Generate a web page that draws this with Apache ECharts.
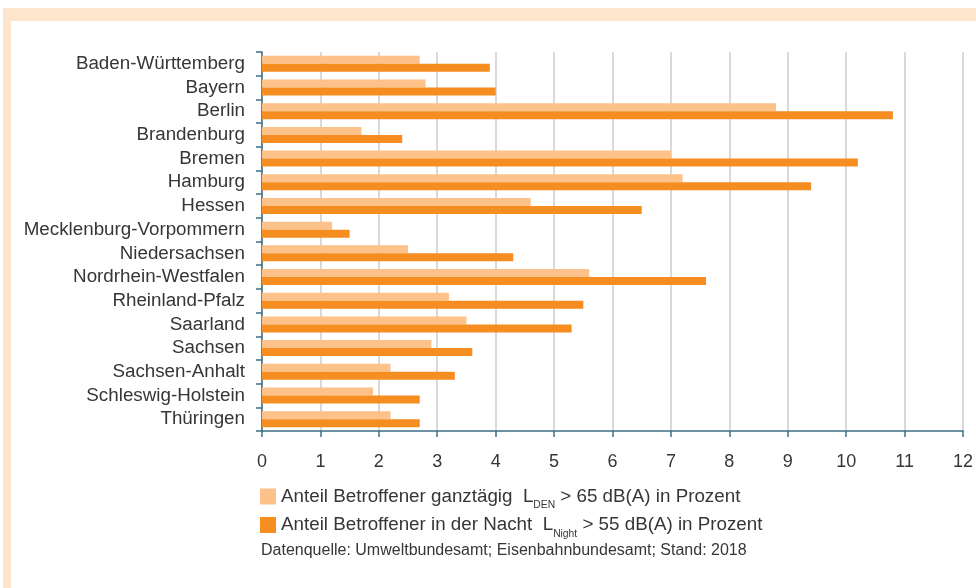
<!DOCTYPE html>
<html>
<head>
<meta charset="utf-8">
<script src="https://cdn.jsdelivr.net/npm/echarts@6/dist/echarts.min.js"></script>
<style>
  html, body { margin: 0; padding: 0; background: #fff; }
  #chart { width: 976px; height: 588px; }
</style>
</head>
<body>
<div id="chart"></div>
<script>
// Bundesländer (von oben nach unten)
var laender = ['Baden-Württemberg', 'Bayern', 'Berlin', 'Brandenburg', 'Bremen', 'Hamburg', 'Hessen',
  'Mecklenburg-Vorpommern', 'Niedersachsen', 'Nordrhein-Westfalen', 'Rheinland-Pfalz', 'Saarland',
  'Sachsen', 'Sachsen-Anhalt', 'Schleswig-Holstein', 'Thüringen'];

// Anteil Betroffener ganztägig L_DEN > 65 dB(A)
var ganztags = [2.7, 2.8, 8.8, 1.7, 7.0, 7.2, 4.6, 1.2, 2.5, 5.6, 3.2, 3.5, 2.9, 2.2, 1.9, 2.2];
// Anteil Betroffener in der Nacht L_Night > 55 dB(A)
var nachts = [3.9, 4.0, 10.8, 2.4, 10.2, 9.4, 6.5, 1.5, 4.3, 7.6, 5.5, 5.3, 3.6, 3.3, 2.7, 2.7];

var nameTag = 'ganztags';
var nameNacht = 'nachts';
var quelle = 'Datenquelle: Umweltbundesamt; Eisenbahnbundesamt; Stand: 2018';

var textFarbe = '#363636';
var achsenFarbe = '#3d6f85';
var rahmenFarbe = '#fde4cc';

var chart = echarts.init(document.getElementById('chart'));

chart.setOption({
  animation: false,
  textStyle: { fontFamily: 'Liberation Sans, Arial, sans-serif' },
  graphic: [
    // Rahmen oben und links
    { type: 'rect', left: 3, top: 8, shape: { width: 973, height: 13 }, style: { fill: rahmenFarbe } },
    { type: 'rect', left: 3, top: 8, shape: { width: 8, height: 580 }, style: { fill: rahmenFarbe } }
  ],
  title: {
    text: quelle,
    left: 256,
    top: 538,
    textStyle: { fontSize: 16, fontWeight: 'normal', color: textFarbe }
  },
  legend: {
    orient: 'vertical',
    left: 260,
    top: 487,
    padding: 0,
    itemWidth: 16,
    itemHeight: 16,
    itemGap: 5,
    icon: 'rect',
    data: [nameTag, nameNacht],
    formatter: function (name) {
      if (name === nameTag) {
        return '{t|Anteil Betroffener ganztägig  L}{s|DEN}{t| > 65 dB(A) in Prozent}';
      }
      return '{t|Anteil Betroffener in der Nacht  L}{s|Night}{t| > 55 dB(A) in Prozent}';
    },
    textStyle: {
      color: textFarbe,
      rich: {
        t: { fontSize: 18.8, color: textFarbe },
        s: { fontSize: 10.3, color: textFarbe, padding: [18, 0, 0, 0] }
      }
    }
  },
  grid: {
    left: 262,
    right: 11,
    top: 52,
    bottom: 157,
    containLabel: false
  },
  xAxis: {
    type: 'value',
    min: 0,
    max: 12,
    interval: 1,
    axisLine: { show: true, lineStyle: { color: achsenFarbe, width: 1.5 } },
    axisTick: { show: true, length: 6, lineStyle: { color: achsenFarbe, width: 1.5 } },
    axisLabel: { color: textFarbe, fontSize: 18, margin: 22 },
    splitLine: { show: true, lineStyle: { color: '#cccccc', width: 1.5 } }
  },
  yAxis: {
    type: 'category',
    inverse: true,
    data: laender,
    axisLine: { show: true, lineStyle: { color: achsenFarbe, width: 1.5 } },
    axisTick: { show: true, length: 6, inside: false, interval: 0, lineStyle: { color: achsenFarbe, width: 1.5 } },
    axisLabel: { color: textFarbe, fontSize: 18.8, margin: 17, interval: 0, hideOverlap: false }
  },
  series: [
    {
      name: nameTag,
      type: 'bar',
      data: ganztags,
      barWidth: 8,
      barGap: '0%',
      itemStyle: { color: '#fcc289' }
    },
    {
      name: nameNacht,
      type: 'bar',
      data: nachts,
      barWidth: 8,
      barGap: '0%',
      itemStyle: { color: '#f58d21' }
    }
  ]
});
</script>
</body>
</html>
